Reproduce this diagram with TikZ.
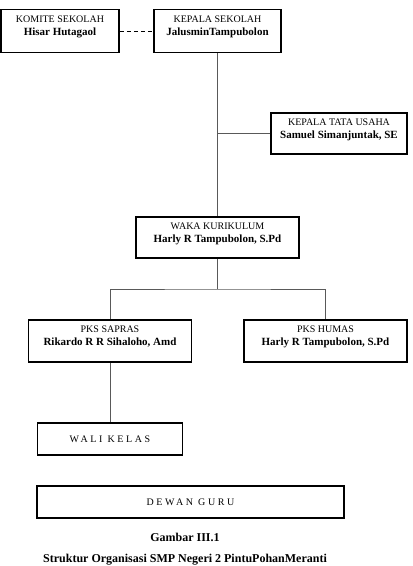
\documentclass[tikz,border=0pt]{standalone}
\usepackage{fontspec}
\setmainfont{Liberation Serif}
\newfontfamily\spacedfont[LetterSpace=26]{Liberation Serif}

\begin{document}
\begin{tikzpicture}[x=1pt, y=-1pt,
    box/.style={draw, line width=1.5pt, inner sep=0pt},
    boxtext/.style={align=center, inner sep=0pt, font=\fontsize{10}{13}\selectfont},
    link/.style={draw=black!65, line width=0.7pt},
    dashlink/.style={draw=black, line width=0.8pt, dash pattern=on 4pt off 3pt}]
    \useasboundingbox (0,0) rectangle (413,566);

    % boxes
    \node[box, minimum width=118, minimum height=43] (komite) at (60, 31) {};
    \node[boxtext] (komite-t) at ([yshift=4pt]komite.center) {KOMITE SEKOLAH\\ \fontsize{11}{13}\selectfont\bfseries Hisar Hutagaol};
    \node[box, minimum width=127, minimum height=43] (kepsek) at (217.5, 31) {};
    \node[boxtext] (kepsek-t) at ([yshift=4pt]kepsek.center) {KEPALA SEKOLAH\\ \fontsize{11}{13}\selectfont\bfseries JalusminTampubolon};
    \node[box, minimum width=136, minimum height=41] (tu) at (339, 133.5) {};
    \node[boxtext] (tu-t) at ([yshift=4pt]tu.center) {KEPALA TATA USAHA\\ \fontsize{11}{13}\selectfont\bfseries Samuel Simanjuntak, SE};
    \node[box, minimum width=163, minimum height=41] (waka) at (217.5, 237.5) {};
    \node[boxtext] (waka-t) at ([yshift=4pt]waka.center) {WAKA KURIKULUM\\ \fontsize{11}{13}\selectfont\bfseries Harly R Tampubolon, S.Pd};
    \node[box, minimum width=163, minimum height=42] (sapras) at (110, 341) {};
    \node[boxtext] (sapras-t) at ([yshift=4pt]sapras.center) {PKS SAPRAS\\ \fontsize{11}{13}\selectfont\bfseries Rikardo R R Sihaloho, Amd};
    \node[box, minimum width=163, minimum height=42] (humas) at (325.5, 341) {};
    \node[boxtext] (humas-t) at ([yshift=4pt]humas.center) {PKS HUMAS\\ \fontsize{11}{13}\selectfont\bfseries Harly R Tampubolon, S.Pd};
    \node[box, minimum width=145, minimum height=32, font=\fontsize{10}{12}\spacedfont] (wali) at (110, 439) {WALI KELAS};
    \node[box, minimum width=307, minimum height=32, font=\fontsize{10}{12}\spacedfont] (dewan) at (190.5, 502) {DEWAN GURU};

    % caption
    \node[font=\fontsize{12}{14}\selectfont\bfseries] (gambar) at (185, 537) {Gambar III.1};
    \node[font=\fontsize{12}{14}\selectfont\bfseries, anchor=base, inner sep=0pt] (judul) at (185, 562.5) {Struktur Organisasi SMP Negeri 2 PintuPohanMeranti};

    % connectors
    \coordinate (fork) at (217.5, 289);
    \draw[dashlink] (komite.east) -- (kepsek.west);
    \draw[link] (kepsek.south) -- (waka.north);
    \draw[link] (tu.west) -- (tu.west -| kepsek.south);
    \draw[link] (waka.south) -- (fork);
    \draw[link] (sapras.north) |- (fork) -| (humas.north);
    \draw[link] (sapras.south) -- (wali.north);
\end{tikzpicture}
\end{document}
